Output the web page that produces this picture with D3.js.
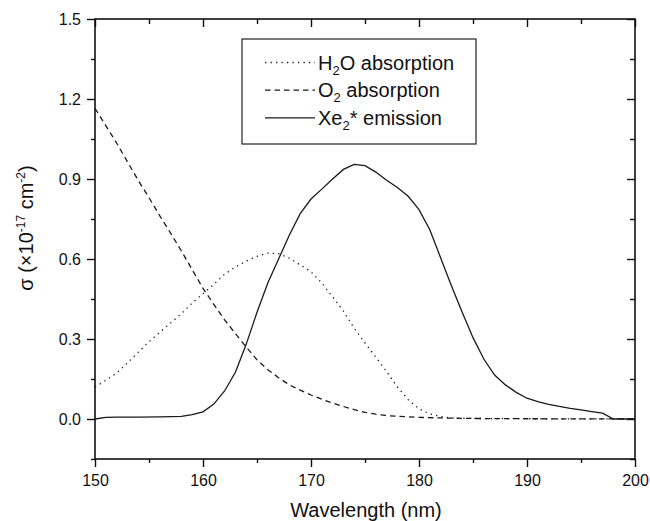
<!DOCTYPE html>
<html><head><meta charset="utf-8">
<script src="https://cdn.jsdelivr.net/npm/d3@7"></script>
<style>
html,body{margin:0;padding:0;background:#fff;}
svg{display:block;font-family:"Liberation Sans",Arial,sans-serif;}
</style></head>
<body>
<svg id="chart" width="650" height="521"></svg>
<script>
// ---- data ----
const h2oWavelength = [150,151,152,153,154,155,156,157,158,159,160,161,162,163,164,165,166,167,168,169,170,171,172,173,174,175,176,177,178,179,180,181,182,183,185,190,200];
const h2oSigma      = [0.12,0.145,0.172,0.21,0.25,0.29,0.325,0.36,0.395,0.435,0.47,0.505,0.543,0.57,0.592,0.61,0.622,0.62,0.603,0.578,0.552,0.51,0.458,0.405,0.34,0.285,0.232,0.178,0.12,0.072,0.038,0.019,0.009,0.004,0.002,0.001,0.0];

const o2Wavelength = [150,151,152,153,154,155,156,157,158,159,160,161,162,163,164,165,166,167,168,169,170,171,172,173,174,175,176,177,178,180,182,185,190,200];
const o2Sigma      = [1.165,1.1,1.035,0.965,0.895,0.83,0.762,0.697,0.63,0.56,0.49,0.43,0.372,0.32,0.27,0.222,0.185,0.155,0.128,0.108,0.09,0.074,0.06,0.047,0.035,0.025,0.018,0.013,0.01,0.006,0.004,0.002,0.001,0.0];

const xeWavelength = [150,151,152,154,156,158,159,160,161,162,163,164,165,166,167,168,169,170,171,172,173,174,175,176,177,178,179,180,181,182,183,184,185,186,187,188,189,190,191,192,193,194,195,196,197,198,200];
const xeSigma      = [0.0,0.006,0.007,0.007,0.008,0.01,0.016,0.027,0.056,0.105,0.175,0.28,0.4,0.51,0.6,0.69,0.77,0.825,0.862,0.9,0.936,0.955,0.95,0.926,0.895,0.868,0.835,0.785,0.71,0.605,0.5,0.4,0.305,0.225,0.165,0.128,0.1,0.078,0.065,0.055,0.047,0.04,0.034,0.028,0.022,0.0,0.0];

const legendLabels = ["H_2O absorption","O_2 absorption","Xe_2* emission"];
const xMajorTicks = [150,160,170,180,190,200];
const xMinorTicks = [155,165,175,185,195];
const yMajorTicks = [0,0.3,0.6,0.9,1.2,1.5];
const yMinorTicks = [-0.15,0.15,0.45,0.75,1.05,1.35];

// ---- layout ----
const svg = d3.select("#chart");
const L = 95, R = 635, T = 19, B = 459;
const x = d3.scaleLinear().domain([150,200]).range([L,R]);
const y = d3.scaleLinear().domain([-0.15,1.5]).range([B,T]);

const series = [
  {w:h2oWavelength, s:h2oSigma, dash:"1.3,4.2"},
  {w:o2Wavelength,  s:o2Sigma,  dash:"5.5,4"},
  {w:xeWavelength,  s:xeSigma,  dash:null}
];

const line = d3.line().x(d=>x(d[0])).y(d=>y(d[1])).curve(d3.curveLinear);
const plot = svg.append("g");
series.forEach(sr=>{
  const pts = sr.w.map((w,i)=>[w,sr.s[i]]);
  plot.append("path").datum(pts).attr("d",line)
    .attr("fill","none").attr("stroke","#1a1a1a").attr("stroke-width",1.3)
    .attr("stroke-dasharray",sr.dash);
});

// ---- axes ----
function styleAxis(g){
  g.select(".domain").remove();
  g.selectAll(".tick line").attr("stroke","#111").attr("stroke-width",1.4);
  g.selectAll(".tick text").attr("fill","#111").attr("font-size",16).attr("font-family",'"Liberation Sans",Arial,sans-serif');
}
svg.append("g").attr("transform",`translate(0,${B})`)
  .call(d3.axisBottom(x).tickValues(xMajorTicks).tickSize(8).tickPadding(8).tickFormat(d3.format("d"))).call(styleAxis);
svg.append("g").attr("transform",`translate(0,${B})`)
  .call(d3.axisBottom(x).tickValues(xMinorTicks).tickSize(4).tickFormat("")).call(styleAxis);
svg.append("g").attr("transform",`translate(${L},0)`)
  .call(d3.axisLeft(y).tickValues(yMajorTicks).tickSize(8).tickPadding(6).tickFormat(d3.format(".1f"))).call(styleAxis);
svg.append("g").attr("transform",`translate(${L},0)`)
  .call(d3.axisLeft(y).tickValues(yMinorTicks).tickSize(4).tickFormat("")).call(styleAxis);
// top & right inward ticks
svg.append("g").attr("transform",`translate(0,${T})`)
  .call(d3.axisTop(x).tickValues(xMajorTicks).tickSize(-8).tickFormat("")).call(styleAxis);
svg.append("g").attr("transform",`translate(0,${T})`)
  .call(d3.axisTop(x).tickValues(xMinorTicks).tickSize(-5).tickFormat("")).call(styleAxis);
svg.append("g").attr("transform",`translate(${R},0)`)
  .call(d3.axisRight(y).tickValues(yMajorTicks).tickSize(-8).tickFormat("")).call(styleAxis);
svg.append("g").attr("transform",`translate(${R},0)`)
  .call(d3.axisRight(y).tickValues(yMinorTicks).tickSize(-5).tickFormat("")).call(styleAxis);

// frame
svg.append("rect").attr("x",L).attr("y",T).attr("width",R-L).attr("height",B-T)
  .attr("fill","none").attr("stroke","#111").attr("stroke-width",1.6);

// ---- axis titles ----
svg.append("text").attr("x",(L+R)/2+1).attr("y",517).attr("text-anchor","middle")
  .attr("font-size",20).attr("fill","#111").text("Wavelength (nm)");

const yt = svg.append("text").attr("transform","translate(33,228) rotate(-90)")
  .attr("text-anchor","middle").attr("font-size",20).attr("fill","#111");
yt.append("tspan").text("σ (×10");
yt.append("tspan").attr("dy",-8).attr("font-size",12).text("-17");
yt.append("tspan").attr("dy",8).text(" cm");
yt.append("tspan").attr("dy",-8).attr("font-size",12).text("-2");
yt.append("tspan").attr("dy",8).text(")");

// ---- legend ----
const lg = svg.append("g");
lg.append("rect").attr("x",242).attr("y",39).attr("width",234).attr("height",105)
  .attr("fill","#fff").attr("stroke","#222").attr("stroke-width",1.2);
legendLabels.forEach((lab,i)=>{
  const cy = 62.5 + i*27.7;
  lg.append("line").attr("x1",265).attr("x2",315).attr("y1",cy).attr("y2",cy)
    .attr("stroke","#1a1a1a").attr("stroke-width",1.3).attr("stroke-dasharray",series[i].dash);
  const t = lg.append("text").attr("x",318).attr("y",cy+7).attr("font-size",20).attr("fill","#111");
  const parts = lab.split("_");
  t.append("tspan").text(parts[0]);
  t.append("tspan").attr("dy",5).attr("font-size",13).text(parts[1][0]);
  t.append("tspan").attr("dy",-5).text(parts[1].slice(1));
});
</script>
</body></html>
